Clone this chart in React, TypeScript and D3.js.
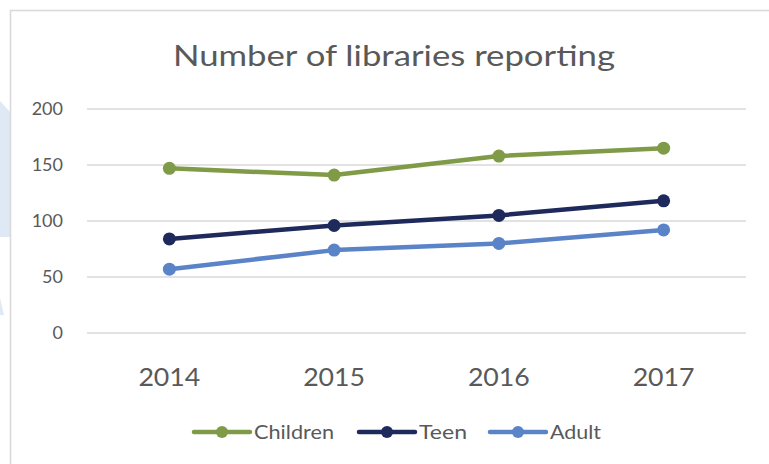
import React from "react";
import * as d3 from "d3";

const categories = ["2014", "2015", "2016", "2017"];
const seriesNames = ["Children", "Teen", "Adult"];
const childrenValues = [147, 141, 158, 165];
const teenValues = [84, 96, 105, 118];
const adultValues = [57, 74, 80, 92];
const yTicks = [0, 50, 100, 150, 200];
const colors = ["#7F9B47", "#1F2A5C", "#5A83C8"];

const W = 769;
const H = 464;
const FONT = "Lato, 'Open Sans', sans-serif";

export default function App() {
  const x = d3.scaleBand<string>().domain(categories).range([87, 746]);
  const y = d3.scaleLinear().domain([0, 200]).range([333, 109]);
  const cx = (i: number) => (x(categories[i]) as number) + x.bandwidth() / 2;
  const line = d3
    .line<number>()
    .x((_, i) => cx(i))
    .y((d) => y(d));
  const series = [childrenValues, teenValues, adultValues];
  const legendX = [194, 359, 490];
  const legendTextW = [80, 48, 51];

  return (
    <svg
      width={W}
      height={H}
      style={{ position: "fixed", left: 0, top: 0, background: "#fff" }}
    >
      <polygon points="0,101 10,112 10,237 0,237" fill="#dfe9f6" />
      <polygon points="0,298 4,315 0,315" fill="#dfe9f6" />
      <rect x={10.5} y={10.5} width={W + 20} height={H + 20} fill="#fff" stroke="#d9d9d9" strokeWidth={1.6} />
      <text
        x={394}
        y={66}
        textAnchor="middle"
        fontFamily={FONT}
        fontSize={29}
        fill="#595959"
        textLength={442}
        lengthAdjust="spacingAndGlyphs"
      >
        Number of libraries reporting
      </text>
      {yTicks.map((t) => (
        <g key={t}>
          <line x1={87} x2={746} y1={y(t)} y2={y(t)} stroke="#d9d9d9" strokeWidth={1.3} />
          <text x={63} y={y(t)} dy="0.35em" textAnchor="end" fontFamily={FONT} fontSize={18} fill="#595959">
            {t}
          </text>
        </g>
      ))}
      {categories.map((c, i) => (
        <text
          key={c}
          x={cx(i)}
          y={386}
          textAnchor="middle"
          fontFamily={FONT}
          fontSize={25}
          fill="#595959"
          textLength={62}
          lengthAdjust="spacingAndGlyphs"
        >
          {c}
        </text>
      ))}
      {series.map((vals, si) => (
        <g key={si}>
          <path d={line(vals) as string} fill="none" stroke={colors[si]} strokeWidth={4.5} strokeLinejoin="round" />
          {vals.map((v, i) => (
            <circle key={i} cx={cx(i)} cy={y(v)} r={6.5} fill={colors[si]} />
          ))}
        </g>
      ))}
      {seriesNames.map((n, si) => (
        <g key={n} transform={`translate(${legendX[si]},432)`}>
          <line x1={0} x2={56} y1={0} y2={0} stroke={colors[si]} strokeWidth={4.5} strokeLinecap="round" />
          <circle cx={28} cy={0} r={6} fill={colors[si]} />
          <text
            x={60}
            y={0}
            dy="0.35em"
            fontFamily={FONT}
            fontSize={19}
            fill="#595959"
            textLength={legendTextW[si]}
            lengthAdjust="spacingAndGlyphs"
          >
            {n}
          </text>
        </g>
      ))}
    </svg>
  );
}
